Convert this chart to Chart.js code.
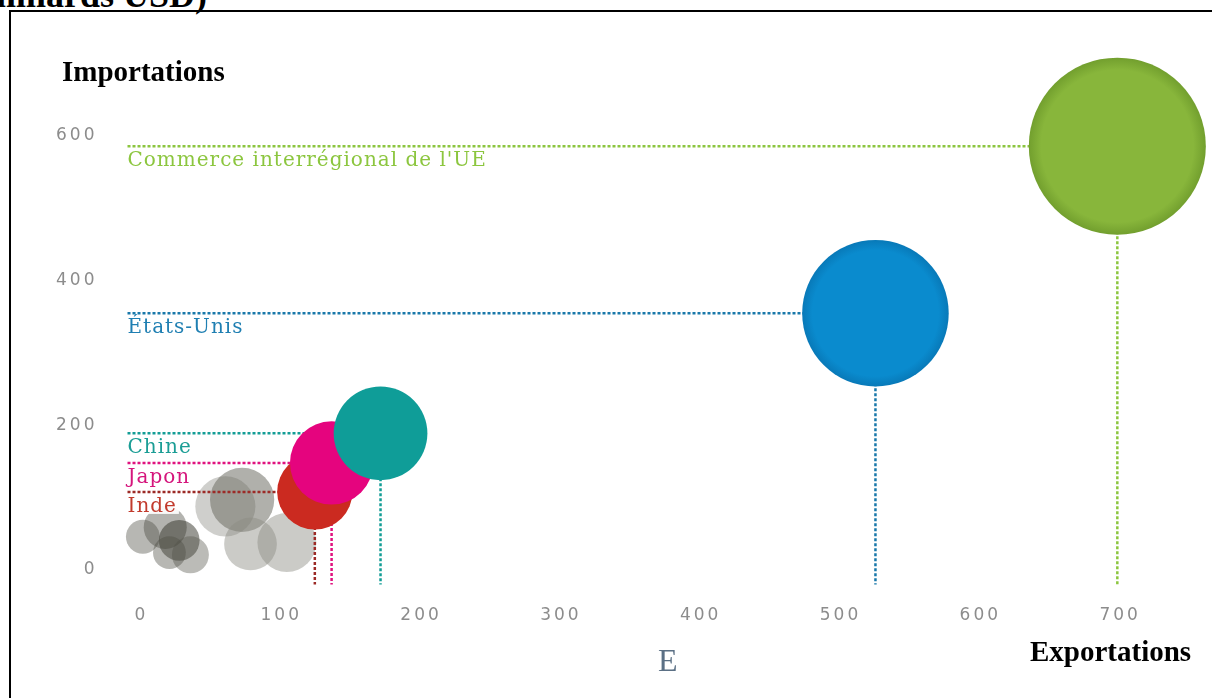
<!DOCTYPE html>
<html lang="fr">
<head>
<meta charset="utf-8">
<title>Importations et exportations (milliards USD)</title>
<script src="https://cdn.jsdelivr.net/npm/chart.js@4.4.1/dist/chart.umd.min.js"></script>
<style>
  html, body { margin: 0; padding: 0; background: #fff; }
  #page { position: relative; width: 1212px; height: 698px; overflow: hidden; background: #fff; }
  #cadre { position: absolute; left: 9px; top: 10px; width: 1240px; height: 760px;
           border-left: 2px solid #000; border-top: 2px solid #000; box-sizing: border-box; }
  #graph { position: absolute; left: 0; top: 0; }
  .txt { position: absolute; white-space: nowrap; line-height: 1; font-family: "Liberation Serif", serif; }
  #titre { right: 1005px; top: -23px; font-size: 36px; font-weight: bold; color: #000; }
  #imp { left: 62px; top: 57px; font-size: 29px; font-weight: bold; color: #000; }
  #exp { left: 1030px; top: 637px; font-size: 29px; font-weight: bold; color: #000; }
  #lettre { left: 658px; top: 644px; font-size: 32px; color: #5b7085; }
</style>
</head>
<body>
<div id="page">
  <div id="titre" class="txt">milliards USD)</div>
  <div id="cadre"></div>
  <canvas id="graph" width="1212" height="698"></canvas>
  <div id="imp" class="txt">Importations</div>
  <div id="exp" class="txt">Exportations</div>
  <div id="lettre" class="txt">E</div>
</div>
<script>
// Principaux acteurs : exportations (x) et importations (y), en milliards USD
const pays = ['Inde', 'Japon', 'Chine', 'États-Unis', "Commerce interrégional de l'UE"];
const exportations = [124, 136, 171, 525, 698];
const importations = [108, 148, 189, 355, 586];

// Autres économies (bulles grises)
const autresExportations = [1, 17, 27, 35, 20, 72, 60, 78, 104];
const autresImportations = [46, 59, 41, 21, 24, 97, 88, 36, 38];

// Graduations des axes
const ticksX = [0, 100, 200, 300, 400, 500, 600, 700];
const ticksY = [0, 200, 400, 600];

// Couleurs
const couleursBulles = ['#cb2a20', '#e5047e', '#0f9d98', '#0a8bce', '#88b63b'];
const couleursBords  = [null, null, null, '#0879b8', '#729f2e'];
const couleursTraits = ['#9c2a26', '#e0127f', '#139d96', '#1878aa', '#8cc63f'];
const couleursTextes = ['#c23a2c', '#d5157c', '#1a9d95', '#1f7fb2', '#8cc63f'];
const grisAutres = ['rgba(75,75,65,0.40)', 'rgba(75,75,65,0.42)', 'rgba(50,50,40,0.50)',
                    'rgba(85,85,75,0.40)', 'rgba(75,75,65,0.40)', 'rgba(90,90,80,0.48)',
                    'rgba(105,105,95,0.32)', 'rgba(140,140,130,0.45)', 'rgba(140,140,130,0.45)'];

// La surface d'une bulle suit le volume total des échanges
const rayon = (ex, im) => 2.47 * Math.sqrt(ex + im);

const pointsPays = pays.map((p, i) => ({ x: exportations[i], y: importations[i], r: rayon(exportations[i], importations[i]) }));
const pointsAutres = autresExportations.map((ex, i) => ({ x: ex, y: autresImportations[i], r: rayon(ex, autresImportations[i]) }));

function remplissage(context) {
  const i = context.dataIndex;
  const bord = couleursBords[i];
  const { chart } = context;
  const sx = chart.scales.x, sy = chart.scales.y;
  if (!bord || !sx || !sy || context.raw == null) return couleursBulles[i];
  const cx = sx.getPixelForValue(context.raw.x);
  const cy = sy.getPixelForValue(context.raw.y);
  const r = context.raw.r;
  if (!isFinite(cx) || !isFinite(cy)) return couleursBulles[i];
  const g = chart.ctx.createRadialGradient(cx, cy, 0, cx, cy, r);
  g.addColorStop(0, couleursBulles[i]);
  g.addColorStop(0.86, couleursBulles[i]);
  g.addColorStop(1, bord);
  return g;
}

// Lignes de rappel pointillées et étiquettes des pays
const rappels = {
  id: 'rappels',
  beforeDraw(chart) {
    chart.ctx.letterSpacing = '3px';
  },
  beforeDatasetsDraw(chart) {
    chart.ctx.letterSpacing = '0px';
  },
  beforeDatasetDraw(chart, args) {
    if (args.index !== 0) return;
    const { ctx, chartArea, scales: { x, y } } = chart;
    const gauche = chartArea.left + 14;
    ctx.save();
    ctx.lineWidth = 2.5;
    ctx.setLineDash([3, 2]);
    pays.forEach((p, i) => {
      const px = x.getPixelForValue(exportations[i]);
      const py = y.getPixelForValue(importations[i]);
      ctx.strokeStyle = couleursTraits[i];
      ctx.beginPath();
      ctx.moveTo(gauche, py);
      ctx.lineTo(px, py);
      ctx.stroke();
      ctx.beginPath();
      ctx.moveTo(px, py);
      ctx.lineTo(px, chartArea.bottom);
      ctx.stroke();
    });
    ctx.setLineDash([]);
    ctx.font = '20px "DejaVu Serif"';
    ctx.letterSpacing = '1px';
    ctx.textAlign = 'left';
    ctx.textBaseline = 'alphabetic';
    pays.forEach((p, i) => {
      const py = y.getPixelForValue(importations[i]);
      const w = ctx.measureText(p).width;
      ctx.fillStyle = 'rgba(255,255,255,0.92)';
      ctx.fillRect(gauche - 2, py + 3, w + 4, 19);
      ctx.fillStyle = couleursTextes[i];
      ctx.fillText(p, gauche, py + 20);
    });
    ctx.restore();
  }
};

const policeTicks = { family: 'DejaVu Sans', size: 17, weight: 'normal' };

new Chart(document.getElementById('graph'), {
  type: 'bubble',
  data: {
    datasets: [
      {
        label: 'Principaux acteurs',
        data: pointsPays,
        backgroundColor: remplissage,
        borderWidth: 0,
        clip: false
      },
      {
        label: 'Autres',
        data: pointsAutres,
        backgroundColor: grisAutres,
        borderWidth: 0
      }
    ]
  },
  options: {
    responsive: false,
    animation: false,
    events: [],
    layout: { autoPadding: false, padding: { left: 0, right: 8, top: 49.2, bottom: 0 } },
    plugins: { legend: { display: false }, tooltip: { enabled: false } },
    scales: {
      x: {
        type: 'linear',
        min: -20,
        max: 760,
        afterFit(scale) { scale.height = 113.5; },
        afterBuildTicks(scale) { scale.ticks = ticksX.map(v => ({ value: v })); },
        grid: { display: false, drawTicks: false },
        border: { display: false },
        ticks: { padding: 21, color: '#8c8c8c', font: policeTicks }
      },
      y: {
        type: 'linear',
        min: -20,
        max: 720,
        afterFit(scale) { scale.width = 113.5; },
        afterBuildTicks(scale) { scale.ticks = ticksY.map(v => ({ value: v })); },
        grid: { display: false, drawTicks: false },
        border: { display: false },
        ticks: { padding: 16, color: '#8c8c8c', font: policeTicks }
      }
    }
  },
  plugins: [rappels]
});
</script>
</body>
</html>
